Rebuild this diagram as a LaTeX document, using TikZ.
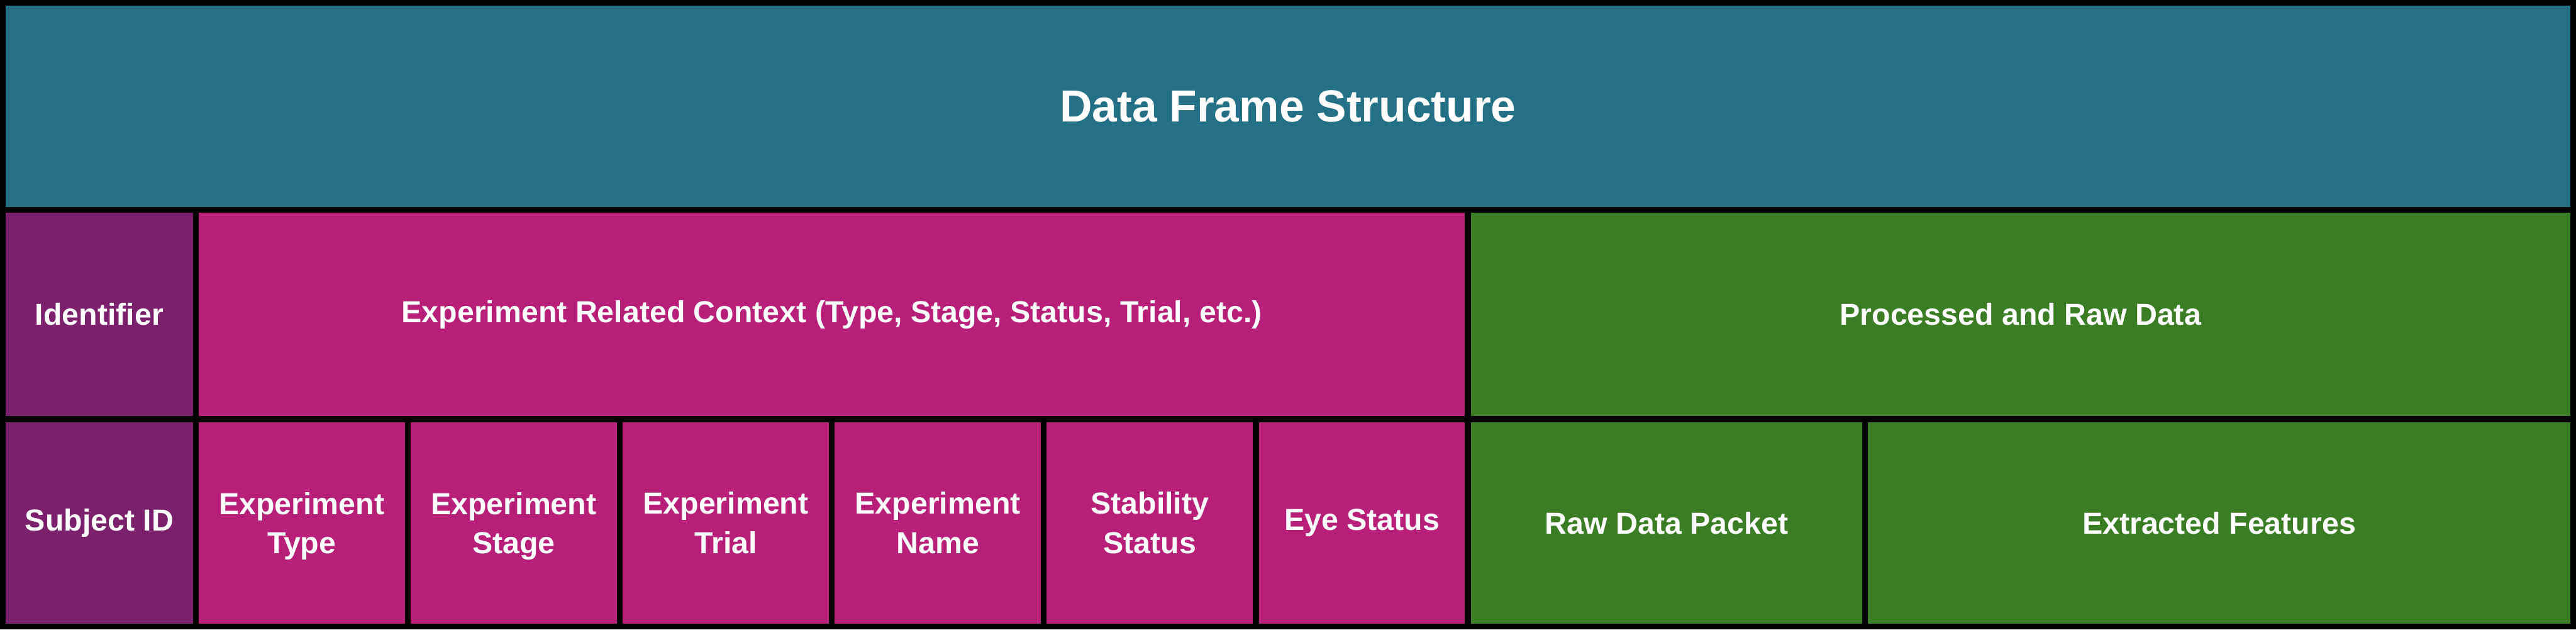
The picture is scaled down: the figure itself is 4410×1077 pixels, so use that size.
\documentclass[tikz,border=0pt]{standalone}
\usepackage{fontspec}
\setmainfont{Liberation Sans}
\definecolor{dfTeal}{RGB}{36,112,135}
\definecolor{dfPurple}{RGB}{122,32,108}
\definecolor{dfPink}{RGB}{184,31,120}
\definecolor{dfGreen}{RGB}{59,125,36}
\tikzset{
  cell/.style={draw=black, line width=2.5pt, rectangle, inner sep=0pt, outer sep=0pt,
    text=white, align=center, font=\bfseries\fontsize{13}{16.75}\selectfont},
  titlecell/.style={cell, fill=dfTeal, font=\bfseries\fontsize{19.2}{23}\selectfont},
  idcell/.style={cell, fill=dfPurple},
  expcell/.style={cell, fill=dfPink},
  datacell/.style={cell, fill=dfGreen},
  rowtop/.style={minimum height=89.5pt},
  rowbot/.style={minimum height=88.75pt},
  nodepth/.style={text depth=0pt},
}
\begin{document}
\begin{tikzpicture}[x=0.25pt,y=-0.25pt]
\useasboundingbox (0,0) rectangle (4410,1077);
% title row
\node[titlecell, minimum width=1100pt, minimum height=88.5pt] (title) at (2205,182) {Data Frame Structure};
% middle row
\node[idcell, rowtop, minimum width=82.5pt] (ident) at (170,538) {Identifier};
\node[expcell, rowtop, minimum width=544.5pt] (context) at (1424,538) {Experiment Related Context (Type, Stage, Status, Trial, etc.)};
\node[datacell, rowtop, minimum width=473pt] (procraw) at (3459,538) {Processed and Raw Data};
% bottom row
\node[idcell, rowbot, minimum width=82.5pt] (subj) at (170,894.5) {Subject ID};
\node[expcell, rowbot, nodepth, minimum width=90.75pt] (etype) at (516.5,894.5) {Experiment\\Type};
\node[expcell, rowbot, nodepth, minimum width=90.75pt] (estage) at (879.5,894.5) {Experiment\\Stage};
\node[expcell, rowbot, minimum width=90.75pt] (etrial) at (1242.5,894.5) {Experiment\\Trial};
\node[expcell, rowbot, minimum width=90.75pt] (ename) at (1605.5,894.5) {Experiment\\Name};
\node[expcell, rowbot, minimum width=90.75pt] (stab) at (1968.5,894.5) {Stability\\Status};
\node[expcell, rowbot, minimum width=90.75pt] (eye) at (2331.5,894.5) {Eye Status};
\node[datacell, rowbot, minimum width=170pt] (rawpkt) at (2853,894.5) {Raw Data Packet};
\node[datacell, rowbot, minimum width=303pt] (feat) at (3799,894.5) {Extracted Features};
\end{tikzpicture}
\end{document}
